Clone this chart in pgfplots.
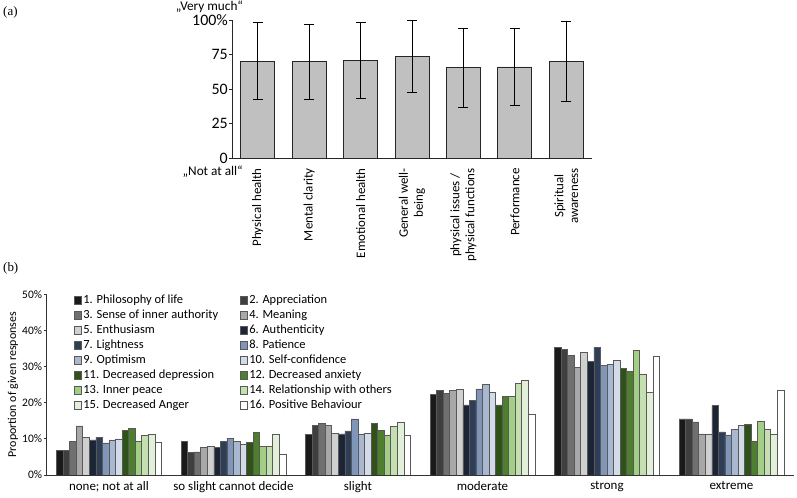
\documentclass[border=0pt]{standalone}
\usepackage{pgfplots}
\pgfplotsset{compat=1.18}
\usepackage{pgfplotstable}
\usepackage{fontspec}
\setmainfont{Carlito}
\newfontfamily\seriffont{Liberation Serif}

\definecolor{c1}{HTML}{1A1A1A}
\definecolor{c2}{HTML}{3F3F3F}
\definecolor{c3}{HTML}{707070}
\definecolor{c4}{HTML}{A8A8A8}
\definecolor{c5}{HTML}{D0D0D0}
\definecolor{c6}{HTML}{1C2535}
\definecolor{c7}{HTML}{2F3E57}
\definecolor{c8}{HTML}{8096B8}
\definecolor{c9}{HTML}{A9B8D0}
\definecolor{c10}{HTML}{D3DBE8}
\definecolor{c11}{HTML}{2F5219}
\definecolor{c12}{HTML}{4E7F2E}
\definecolor{c13}{HTML}{A2CF85}
\definecolor{c14}{HTML}{C5E0B0}
\definecolor{c15}{HTML}{E2EFD9}
\definecolor{c16}{HTML}{FFFFFF}
\definecolor{barGray}{HTML}{C0C0C0}

\pgfplotsset{
  /pgfplots/ybar legend/.style={
    /pgfplots/legend image code/.code={\draw[##1] (0bp,-3.8bp) rectangle (7.5bp,3.8bp);}
  }
}

\pgfplotstableread{
x s1 s2 s3 s4 s5 s6 s7 s8 s9 s10 s11 s12 s13 s14 s15 s16
0 6.9 6.9 9.2 13.6 10.5 9.7 10.5 8.9 9.7 10.0 12.4 12.8 9.4 11.0 11.3 9.0
1 9.2 6.2 6.4 7.7 7.9 7.7 9.2 10.2 9.4 8.4 9.0 11.7 7.9 7.9 11.4 5.6
2 11.2 13.8 14.3 13.7 11.6 11.4 12.2 15.5 11.4 11.6 14.3 12.4 11.1 13.5 14.7 10.9
3 22.3 23.3 22.6 23.3 23.6 19.4 20.6 23.8 25.1 22.8 19.4 21.7 21.7 25.3 26.1 16.8
4 35.2 34.7 33.1 29.7 33.9 31.4 35.4 30.4 30.7 31.7 29.5 28.7 34.5 28.0 23.0 32.8
5 15.5 15.5 14.7 11.4 11.4 19.2 11.9 11.1 12.7 13.8 14.0 9.3 14.9 12.7 11.4 23.3
}\datab

\begin{document}
\begin{tikzpicture}
\useasboundingbox (0,0) rectangle (797bp,498bp);
\node[font=\seriffont\fontsize{13}{15}\selectfont, anchor=west, inner sep=0pt] at (3bp,486bp) {(a)};
\node[font=\seriffont\fontsize{13}{15}\selectfont, anchor=west, inner sep=0pt] at (3bp,230bp) {(b)};
\node[font=\fontsize{13.3}{15}\selectfont, anchor=east, inner sep=0pt] at (243bp,491bp) {„Very much“};
\node[font=\fontsize{13.3}{15}\selectfont, anchor=east, inner sep=0pt] at (243bp,326bp) {„Not at all“};

\begin{axis}[
  at={(232bp,340bp)}, anchor=south west,
  scale only axis, width=360bp, height=137.7bp,
  xmin=-0.5, xmax=6.5, ymin=0, ymax=100,
  axis lines=left, axis line style={-, line width=0.9bp, black!85},
  hide obscured y ticks=false, hide obscured x ticks=false,
  clip=false,
  ytick={0,25,50,75,100}, yticklabels={0,25,50,75,100\%},
  yticklabel style={font=\fontsize{16}{18}\selectfont, inner sep=1bp},
  tick align=outside, major tick length=3bp,
  ytick style={line width=0.9bp, black!85},
  xtick={0,...,6}, xtick style={draw=none},
  xticklabels={Physical health, Mental clarity, Emotional health, {General well-\\being}, {physical issues /\\physical functions}, Performance, {Spiritual\\awareness}},
  xticklabel style={font=\fontsize{13}{15}\selectfont, rotate=90, anchor=east, align=center, inner sep=1bp, xshift=-6bp},
]
\addplot[ybar, bar width=34bp, fill=barGray, draw=black!85, line width=0.9bp,
  error bars/.cd, y dir=both, y explicit,
  error bar style={line width=0.9bp, black},
  error mark options={rotate=90, mark size=5bp, line width=0.9bp, black}]
coordinates {
(0,70.2) +- (0,28.0)
(1,69.9) +- (0,27.4)
(2,70.7) +- (0,27.5)
(3,73.8) +- (0,26.0)
(4,65.4) +- (0,29.0)
(5,66.1) +- (0,27.8)
(6,70.2) +- (0,29.2)
};
\end{axis}

\begin{axis}[
  at={(46.7bp,23bp)}, anchor=south west,
  scale only axis, width=747bp, height=180.7bp,
  xmin=-0.5, xmax=5.5, ymin=0, ymax=50,
  axis lines=left, axis line style={-, line width=0.8bp, black!80},
  hide obscured y ticks=false, hide obscured x ticks=false,
  ybar=0pt, bar width=6.55bp,
  ytick={0,10,20,30,40,50}, yticklabels={0\%,10\%,20\%,30\%,40\%,50\%},
  yticklabel style={font=\fontsize{11.5}{13}\selectfont, inner sep=1.5bp},
  tick align=outside, major tick length=3bp,
  ytick style={line width=0.8bp, black!80},
  xtick={0,...,5}, xtick style={draw=none},
  xticklabels={none; not at all, so slight cannot decide, slight, moderate, strong, extreme},
  xticklabel style={font=\fontsize{13}{14}\selectfont, inner sep=1bp, yshift=-2bp},
  ylabel={Proportion of given responses},
  ylabel style={font=\fontsize{12}{13}\selectfont, yshift=-1bp},
  legend columns=2,
  legend style={at={(0.036,1.01)}, anchor=north west, draw=none, fill=none,
    font=\fontsize{12.5}{14}\selectfont, row sep=0bp, inner sep=0pt,
    nodes={text height=9bp, text depth=3bp, inner sep=1.5bp},
    /tikz/every even column/.append style={column sep=20bp}},
  legend cell align=left,
  legend entries={1. Philosophy of life, 2. Appreciation, 3. Sense of inner authority, 4. Meaning, 5. Enthusiasm, 6. Authenticity, 7. Lightness, 8. Patience, 9. Optimism, 10. Self-confidence, 11. Decreased depression, 12. Decreased anxiety, 13. Inner peace, 14. Relationship with others, 15. Decreased Anger, 16. Positive Behaviour},
]
\pgfplotsinvokeforeach{1,...,16}{
  \addplot[fill=c#1, draw=black!65, line width=0.6bp] table[x=x, y=s#1] {\datab};
}
\end{axis}
\end{tikzpicture}
\end{document}
